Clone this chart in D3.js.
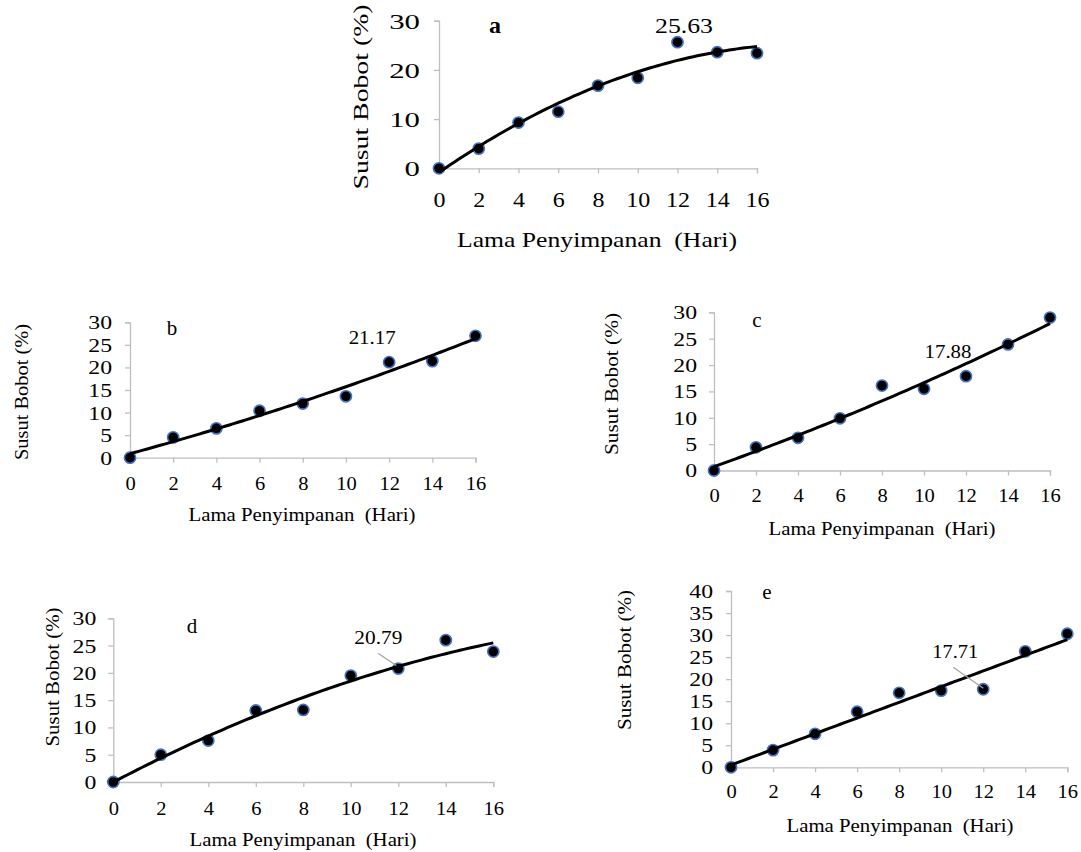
<!DOCTYPE html>
<html><head><meta charset="utf-8">
<script src="https://cdn.jsdelivr.net/npm/d3@7"></script>
<style>
body{margin:0;background:#fff}
text{font-family:"Liberation Serif","Times New Roman",serif;fill:#000}
</style>
</head><body>
<svg id="chart" width="1081" height="852"></svg>
<script>
// ---------- data ----------
const days = [0, 2, 4, 6, 8, 10, 12, 14, 16];
const xTickValues = [0, 2, 4, 6, 8, 10, 12, 14, 16];
const lossA = [0, 4.0, 9.3, 11.5, 16.8, 18.4, 25.63, 23.6, 23.4];
const lossB = [0, 4.5, 6.5, 10.4, 12.0, 13.6, 21.17, 21.4, 27.0];
const lossC = [0, 4.4, 6.2, 9.9, 16.1, 15.5, 17.88, 23.9, 29.0];
const lossD = [0, 5.0, 7.6, 13.1, 13.2, 19.5, 20.79, 26.0, 23.9];
const lossE = [0, 3.9, 7.6, 12.6, 16.9, 17.4, 17.71, 26.3, 30.3];
const yTicksA = [0, 10, 20, 30];
const yTicks30 = [0, 5, 10, 15, 20, 25, 30];
const yTicks40 = [0, 5, 10, 15, 20, 25, 30, 35, 40];
const panelLetters = ["a", "b", "c", "d", "e"];
const labelledIndex = 6; // day 12 carries a data label
const xTitleText = "Lama Penyimpanan  (Hari)";
const yTitleText = "Susut Bobot (%)";

// ---------- layout ----------
const panels = [
  {values: lossA, yMax: 30, yTicks: yTicksA, order: 2,
   x0: 439, x1: 757, yTop: 20.7, yBot: 168.3,
   yTickFs: 22, xTickFs: 20, ySx: 1.4, xSx: 1.2, yGap: 19, xBase: 39,
   titleFs: 22, xT: {x: 597, y: 247, len: 280}, yT: {x: 368, y: 97, len: 185},
   letter: {x: 495, y: 33, fs: 24, bold: true},
   lab: {dx: 6.5, dy: -9, fs: 22, len: 58}, leader: null},
  {values: lossB, yMax: 30, yTicks: yTicks30, order: 2,
   x0: 130, x1: 475.5, yTop: 322.3, yBot: 457.7,
   yTickFs: 19, xTickFs: 19, ySx: 1.25, xSx: 1.08, yGap: 18, xBase: 32,
   titleFs: 19, xT: {x: 302, y: 521, len: 227}, yT: {x: 28, y: 392, len: 136},
   letter: {x: 172, y: 335, fs: 21, bold: false},
   lab: {dx: -17, dy: -18, fs: 19, len: 47}, leader: null},
  {values: lossC, yMax: 30, yTicks: yTicks30, order: 2,
   x0: 714, x1: 1050, yTop: 312.3, yBot: 470.5,
   yTickFs: 19, xTickFs: 19, ySx: 1.25, xSx: 1.08, yGap: 17, xBase: 32,
   titleFs: 19, xT: {x: 882, y: 535, len: 227}, yT: {x: 618, y: 384, len: 142},
   letter: {x: 757, y: 327, fs: 21, bold: false},
   lab: {dx: -18, dy: -18, fs: 19, len: 47}, leader: null},
  {values: lossD, yMax: 30, yTicks: yTicks30, order: 2,
   x0: 113.3, x1: 493.3, yTop: 618.3, yBot: 782,
   yTickFs: 19, xTickFs: 19, ySx: 1.25, xSx: 1.08, yGap: 17, xBase: 33,
   titleFs: 19, xT: {x: 303, y: 846, len: 227}, yT: {x: 59, y: 677, len: 139},
   letter: {x: 192, y: 633, fs: 21, bold: false},
   lab: {dx: -20, dy: -24.5, fs: 19, len: 48},
   leader: {dx1: -20, dy1: -15, dx2: -2, dy2: -3}},
  {values: lossE, yMax: 40, yTicks: yTicks40, order: 1,
   x0: 731, x1: 1067.3, yTop: 591, yBot: 767.3,
   yTickFs: 19, xTickFs: 19, ySx: 1.25, xSx: 1.08, yGap: 18, xBase: 31,
   titleFs: 19, xT: {x: 900, y: 832, len: 227}, yT: {x: 631, y: 660, len: 140},
   letter: {x: 767, y: 599, fs: 21, bold: false},
   lab: {dx: -28, dy: -31, fs: 19, len: 46},
   leader: {dx1: -30, dy1: -22, dx2: 0, dy2: -1}}
];

// least squares polynomial fit (order 1 or 2)
function polyFit(xs, ys, order) {
  const n = order + 1;
  const A = Array.from({length: n}, () => new Array(n + 1).fill(0));
  xs.forEach((x, i) => {
    for (let r = 0; r < n; r++) {
      for (let c = 0; c < n; c++) A[r][c] += Math.pow(x, r + c);
      A[r][n] += ys[i] * Math.pow(x, r);
    }
  });
  for (let i = 0; i < n; i++) {
    let p = i;
    for (let k = i + 1; k < n; k++) if (Math.abs(A[k][i]) > Math.abs(A[p][i])) p = k;
    [A[i], A[p]] = [A[p], A[i]];
    for (let k = i + 1; k < n; k++) {
      const f = A[k][i] / A[i][i];
      for (let c = i; c <= n; c++) A[k][c] -= f * A[i][c];
    }
  }
  const coef = new Array(n).fill(0);
  for (let i = n - 1; i >= 0; i--) {
    let s = A[i][n];
    for (let c = i + 1; c < n; c++) s -= A[i][c] * coef[c];
    coef[i] = s / A[i][i];
  }
  return x => coef.reduce((acc, c, k) => acc + c * Math.pow(x, k), 0);
}

function stretch(sel, sx) {
  sel.each(function () {
    const t = d3.select(this);
    const xx = +t.attr("x") || 0;
    t.attr("x", 0).attr("transform", `translate(${xx},0) scale(${sx},1)`);
  });
}

const svg = d3.select("#chart");
const axisColor = "#bfbfbf";

panels.forEach((p, pi) => {
  const g = svg.append("g");
  const x = d3.scaleLinear().domain([0, 16]).range([p.x0, p.x1]);
  const y = d3.scaleLinear().domain([0, p.yMax]).range([p.yBot, p.yTop]);

  // y axis
  const ya = g.append("g").attr("transform", `translate(${p.x0},0)`)
    .call(d3.axisLeft(y).tickValues(p.yTicks).tickSize(5).tickSizeOuter(5));
  ya.attr("font-family", null).attr("font-size", null);
  ya.selectAll("path,line").attr("stroke", axisColor).attr("stroke-width", 1.3);
  const yt = ya.selectAll("text").attr("x", -p.yGap).attr("dy", "0.34em")
    .attr("font-size", p.yTickFs).attr("fill", "#000");
  stretch(yt, p.ySx);

  // x axis
  const xa = g.append("g").attr("transform", `translate(0,${p.yBot})`)
    .call(d3.axisBottom(x).tickValues(xTickValues).tickSize(5).tickSizeOuter(5));
  xa.attr("font-family", null).attr("font-size", null);
  xa.selectAll("path,line").attr("stroke", axisColor).attr("stroke-width", 1.3);
  const xt = xa.selectAll("text").attr("y", p.xBase).attr("dy", null)
    .attr("font-size", p.xTickFs).attr("fill", "#000");
  stretch(xt, p.xSx);

  // titles
  g.append("text").attr("x", p.xT.x).attr("y", p.xT.y)
    .attr("text-anchor", "middle").attr("font-size", p.titleFs)
    .attr("textLength", p.xT.len).attr("lengthAdjust", "spacingAndGlyphs")
    .style("white-space", "pre")
    .text(xTitleText);
  g.append("text").attr("transform", `translate(${p.yT.x},${p.yT.y}) rotate(-90)`)
    .attr("text-anchor", "middle").attr("font-size", p.titleFs)
    .attr("textLength", p.yT.len).attr("lengthAdjust", "spacingAndGlyphs")
    .text(yTitleText);

  // panel letter
  g.append("text").attr("x", p.letter.x).attr("y", p.letter.y)
    .attr("text-anchor", "middle").attr("font-size", p.letter.fs)
    .attr("font-weight", p.letter.bold ? "bold" : "normal")
    .text(panelLetters[pi]);

  // markers
  g.selectAll("circle").data(days).join("circle")
    .attr("cx", d => x(d)).attr("cy", (d, i) => y(p.values[i]))
    .attr("r", 5.6).attr("fill", "#000")
    .attr("stroke", "#4472c4").attr("stroke-width", 1.6);

  // trendline
  const f = polyFit(days, p.values, p.order);
  const samples = d3.range(0, 16.001, 0.2);
  g.append("path").datum(samples)
    .attr("d", d3.line().x(d => x(d)).y(d => y(f(d))))
    .attr("fill", "none").attr("stroke", "#000").attr("stroke-width", 3);

  // data label on day 12
  const lx = x(days[labelledIndex]), ly = y(p.values[labelledIndex]);
  if (p.leader) {
    g.append("line")
      .attr("x1", lx + p.leader.dx1).attr("y1", ly + p.leader.dy1)
      .attr("x2", lx + p.leader.dx2).attr("y2", ly + p.leader.dy2)
      .attr("stroke", "#a6a6a6").attr("stroke-width", 1.3);
  }
  g.append("text").attr("x", lx + p.lab.dx).attr("y", ly + p.lab.dy)
    .attr("text-anchor", "middle").attr("font-size", p.lab.fs)
    .attr("textLength", p.lab.len).attr("lengthAdjust", "spacingAndGlyphs")
    .text(p.values[labelledIndex].toFixed(2));
});
</script>
</body></html>
